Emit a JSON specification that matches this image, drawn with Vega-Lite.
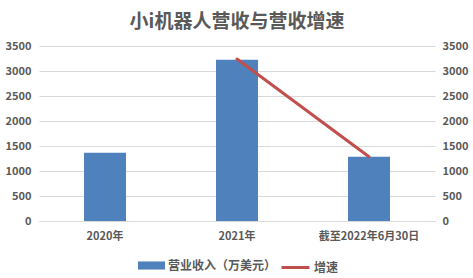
{
  "$schema": "https://vega.github.io/schema/vega-lite/v6.json",
  "autosize": "none",
  "width": 396,
  "height": 175,
  "padding": {"left": 39, "top": 46, "right": 38, "bottom": 57},
  "background": "white",
  "title": {
    "text": "小i机器人营收与营收增速",
    "font": "Noto Sans CJK SC",
    "fontSize": 19,
    "fontWeight": "bold",
    "color": "#595959",
    "anchor": "middle",
    "offset": 8
  },
  "data": {
    "values": [
      {"period": "2020年", "revenue": 1365, "growth": null},
      {"period": "2021年", "revenue": 3225, "growth": 3240},
      {"period": "截至2022年6月30日", "revenue": 1285, "growth": 1285}
    ]
  },
  "config": {
    "view": {"stroke": null},
    "font": "Noto Sans CJK SC",
    "axis": {
      "labelFont": "Noto Sans CJK SC",
      "labelColor": "#595959",
      "labelFontSize": 11,
      "labelFontWeight": "bold",
      "ticks": false,
      "title": null,
      "domain": false,
      "gridColor": "#D9D9D9",
      "gridWidth": 1
    },
    "legend": {
      "labelFont": "Noto Sans CJK SC",
      "labelFontSize": 12,
      "labelFontWeight": "bold",
      "labelColor": "#595959",
      "title": null
    }
  },
  "encoding": {
    "x": {
      "field": "period",
      "type": "nominal",
      "sort": null,
      "scale": {"paddingInner": 0.682, "paddingOuter": 0.341},
      "axis": {"labelAngle": 0, "labelPadding": 9, "domain": true, "domainColor": "#D9D9D9", "grid": false}
    }
  },
  "layer": [
    {
      "mark": {"type": "bar"},
      "encoding": {
        "y": {
          "field": "revenue",
          "type": "quantitative",
          "scale": {"domain": [0, 3500]},
          "axis": {"values": [0, 500, 1000, 1500, 2000, 2500, 3000, 3500], "format": "d", "labelPadding": 8, "grid": true}
        },
        "fill": {
          "datum": "营业收入（万美元）",
          "scale": {"range": ["#4F81BD"]},
          "legend": {
            "orient": "none",
            "legendX": 99,
            "legendY": 206,
            "symbolType": "M-1,-0.3L1,-0.3L1,0.3L-1,0.3Z",
            "symbolSize": 729,
            "symbolStrokeWidth": 0,
            "labelOffset": 3
          }
        }
      }
    },
    {
      "mark": {"type": "line", "strokeWidth": 3, "strokeCap": "round"},
      "encoding": {
        "y": {
          "field": "growth",
          "type": "quantitative",
          "scale": {"domain": [0, 3500]},
          "axis": {"orient": "right", "values": [0, 500, 1000, 1500, 2000, 2500, 3000, 3500], "format": "d", "labelPadding": 7, "grid": false}
        },
        "stroke": {
          "datum": "增速",
          "scale": {"range": ["#C0504D"]},
          "legend": {
            "orient": "none",
            "legendX": 241,
            "legendY": 206,
            "symbolType": "stroke",
            "symbolSize": 784,
            "symbolStrokeWidth": 3,
            "labelOffset": 3
          }
        }
      }
    }
  ],
  "resolve": {"scale": {"y": "independent"}}
}
